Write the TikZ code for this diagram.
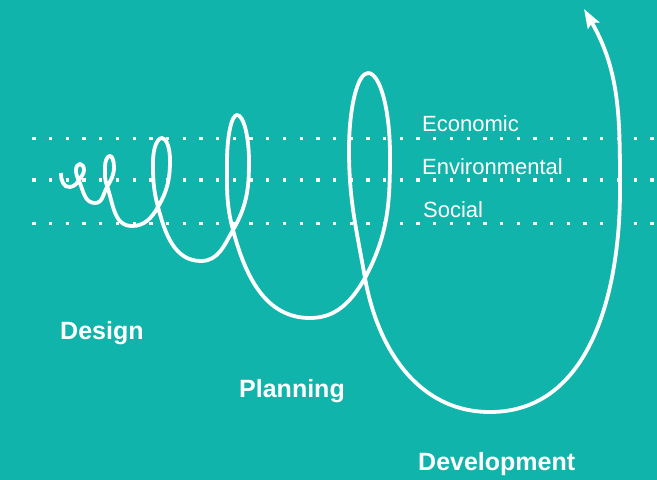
\documentclass[tikz,border=0pt]{standalone}
\usepackage{fontspec}
\setmainfont{Liberation Sans}
\usetikzlibrary{arrows.meta}
\definecolor{bgteal}{RGB}{16,180,170}
\begin{document}
\begin{tikzpicture}[x=1pt, y=1pt, >={Stealth[length=19pt, width=13pt, inset=3pt]},
    lane/.style={white, line width=3.3pt, dash pattern=on 3.3pt off 13.4pt},
    lbl/.style={white, anchor=base west, inner sep=0pt, font=\fontsize{22}{26}\selectfont},
    stage/.style={white, anchor=base west, inner sep=0pt, font=\fontsize{25}{30}\selectfont\bfseries}]
\fill[bgteal](0,0) rectangle (657,-480);
\useasboundingbox (0,0) rectangle (657,-480);

\draw[lane](32.3,-138.3)--(657,-138.3);
\draw[lane](32.3,-180)--(657,-180);
\draw[lane](32.3,-223.3)--(657,-223.3);

\node[lbl] (eco) at (422,-131){Economic};
\node[lbl] (env) at (422,-174){Environmental};
\node[lbl] (soc) at (423,-217){Social};

\node[stage] (design) at (60,-339){Design};
\node[stage] (planning) at (239,-397){Planning};
\node[stage] (development) at (418,-470){Development};

\draw[->, white, line width=3.8pt]
    (61,-173) to[out=-95,in=190] (70,-187) to[out=10,in=240] (79,-180) to[out=60,in=270] (84,-170)
    .. controls (84,-166.7) and (82.2,-164) .. (80,-164) .. controls (77.8,-164) and (76,-166.7) .. (76,-170)
    to[out=270,in=115] (79,-181) to[out=-65,in=180] (95,-203) to[out=0,in=240] (107,-187) to[out=60,in=270] (114,-167)
    .. controls (114,-160.9) and (112.2,-156) .. (110,-156) .. controls (107.2,-156) and (105,-160.9) .. (105,-167)
    to[out=270,in=110] (107,-186) to[out=-70,in=180] (132,-226) to[out=0,in=240] (158,-207) to[out=60,in=270] (170,-160)
    .. controls (170,-147.9) and (166.4,-138) .. (162,-138) .. controls (157,-138) and (153,-148.8) .. (153,-162)
    to[out=270,in=105] (158,-207) to[out=-75,in=180] (201,-261) to[out=0,in=240] (233,-230) to[out=60,in=270] (249,-162)
    .. controls (249,-136) and (243.6,-115) .. (237,-115) .. controls (231.5,-115) and (227,-136) .. (227,-162)
    to[out=270,in=105] (233,-230) to[out=-75,in=180] (310,-318) to[out=0,in=240] (365,-278) to[out=62,in=270] (390,-155)
    .. controls (390,-109.7) and (380.1,-73) .. (368,-73) .. controls (357.5,-73) and (349,-107.5) .. (349,-150)
    to[out=270,in=100] (365,-278) to[out=-80,in=180] (490,-412) to[out=0,in=270] (620,-190)
    to[out=90,in=-60] (584,-9);

\end{tikzpicture}
\end{document}
